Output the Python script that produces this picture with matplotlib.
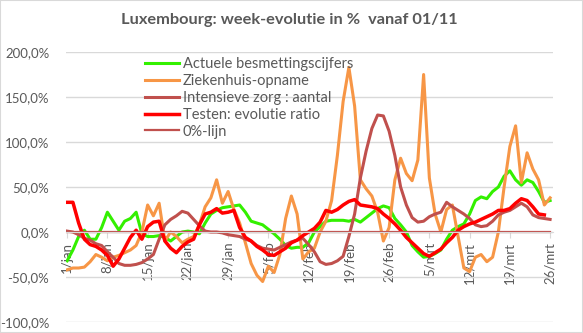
import numpy as np
import matplotlib.pyplot as plt
from matplotlib.patches import Rectangle
from matplotlib.ticker import FuncFormatter

# week-evolution in %, one value per day from 1/jan to 26/mrt
besmetting = [-32, -20, -5, 2, -8, -8, 5, 22, 12, 2, 12, 15, 22, -2, -5, -5, -4, -6, -10, -5,
              0, 1, 0, -2, 10, 20, 24, 27, 28, 29, 30, 22, 12, 10, 8, 3, -2, -8, -15, -18,
              -17, -17, -12, 0, 6, 12, 13, 13, 13, 12, 14, 11, 16, 21, 26, 29, 27, 15, 8, 0,
              -15, -22, -28, -27, -24, -20, -8, 2, 6, 9, 20, 35, 39, 37, 45, 50, 62, 68, 58, 52,
              58, 55, 45, 33, 35]
ziekenhuis = [-42, -40, -40, -39, -33, -25, -28, -32, -28, -26, -23, -20, -15, 0, 30, 18, 32, -10, 0, -5,
              -12, -8, -5, 8, 28, 38, 58, 32, 45, 25, 10, -12, -35, -48, -55, -38, -45, -25, 15, 40,
              20, -30, -22, -18, 0, 12, 35, 85, 145, 183, 140, 58, 48, 40, 22, -10, 5, 58, 82, 65,
              57, 80, 175, 60, 20, 0, 25, 30, -5, -40, -44, -28, -25, -33, -28, 0, 50, 95, 118, 55,
              88, 70, 58, 30, 38]
intensieve = [1, 0, -3, -7, -9, -13, -15, -22, -28, -35, -37, -37, -36, -34, -30, -25, -8, 8, 14, 18,
              23, 21, 14, 7, 1, 0, 0, -1, -3, -4, -5, -8, -10, -15, -18, -19, -20, -17, -14, -11,
              -9, -7, -14, -22, -33, -36, -35, -32, -27, -5, 20, 60, 90, 115, 130, 129, 112, 85, 50, 30,
              16, 11, 12, 17, 20, 22, 33, 28, 24, 20, 15, 8, 6, 7, 12, 19, 22, 24, 28, 32,
              28, 19, 16, 15, 14]
testen = [33, 33, 10, -8, -14, -16, -20, -26, -38, -30, -18, -6, 2, -8, 6, 11, 12, -10, -18, -23,
          -16, -11, -8, 8, 20, 22, 26, 21, 22, 24, 5, -6, -10, -16, -20, -25, -26, -22, -18, -12,
          -9, -4, 0, 4, 11, 24, 22, 25, 30, 34, 36, 30, 29, 28, 26, 20, 15, 9, 2, -6,
          -12, -18, -24, -27, -23, -19, -12, -6, 2, 6, 9, 11, 14, 17, 20, 24, 24, 26, 32, 37,
          35, 28, 20, 19]
tick_labels = ['1/jan', '8/jan', '15/jan', '22/jan', '29/jan', '5/feb', '12/feb',
               '19/feb', '26/feb', '5/mrt', '12/mrt', '19/mrt', '26/mrt']

plt.rcParams['font.family'] = ['Lato', 'DejaVu Sans']
grey = '#595959'

fig = plt.figure(figsize=(5.83, 3.33), dpi=100)
fig.patches.append(Rectangle((0, 0), 1, 1, transform=fig.transFigure, fill=False,
                             edgecolor='#D9D9D9', linewidth=1.5))
ax = fig.add_axes([0.1132, 0.033, 0.8353, 0.8108])

x = np.arange(len(besmetting))
ax.plot(x, besmetting, color='#33F000', lw=2.2, label='Actuele besmettingscijfers')
ax.plot(x, ziekenhuis, color='#F79646', lw=2.2, label='Ziekenhuis-opname')
ax.plot(x, intensieve, color='#C0504D', lw=2.2, label='Intensieve zorg : aantal')
ax.plot(x[:len(testen)], testen, color='#FF0000', lw=2.5, label='Testen: evolutie ratio')
ax.plot(x, np.zeros(len(x)), color='#C0504D', lw=1.6, label='0%-lijn')

ax.set_ylim(-100, 200)
ax.set_yticks(np.arange(-100, 201, 50))
ax.yaxis.set_major_formatter(FuncFormatter(lambda v, p: ('%.1f%%' % v).replace('.', ',')))
ax.set_xlim(-0.2, 84.5)
ax.set_xticks(np.arange(0, 85, 7))
ax.set_xticklabels(tick_labels)

ax.grid(axis='y', color='#D9D9D9', lw=1)
ax.set_axisbelow(True)
for s in ['left', 'right', 'top']:
    ax.spines[s].set_visible(False)
ax.spines['bottom'].set_position(('data', 0))
ax.spines['bottom'].set_color('#D9D9D9')
ax.tick_params(axis='y', length=0, pad=12, labelsize=9.5, labelcolor=grey)
ax.tick_params(axis='x', length=4, color='#D9D9D9', pad=3, labelsize=9.5, labelcolor=grey,
               labelrotation=90)

fig.text(0.497, 0.94, 'Luxembourg: week-evolutie in %  vanaf 01/11', ha='center', va='center',
         fontsize=11.8, fontweight='bold', color=grey)

leg = ax.legend(loc='upper left', bbox_to_anchor=(0.237, 0.851), bbox_transform=fig.transFigure,
                frameon=False, fontsize=10.5, handlelength=2.3, handletextpad=0.25,
                labelspacing=0.2, borderpad=0)
for t in leg.get_texts():
    t.set_color(grey)

fig.savefig('out.png', dpi=100)
